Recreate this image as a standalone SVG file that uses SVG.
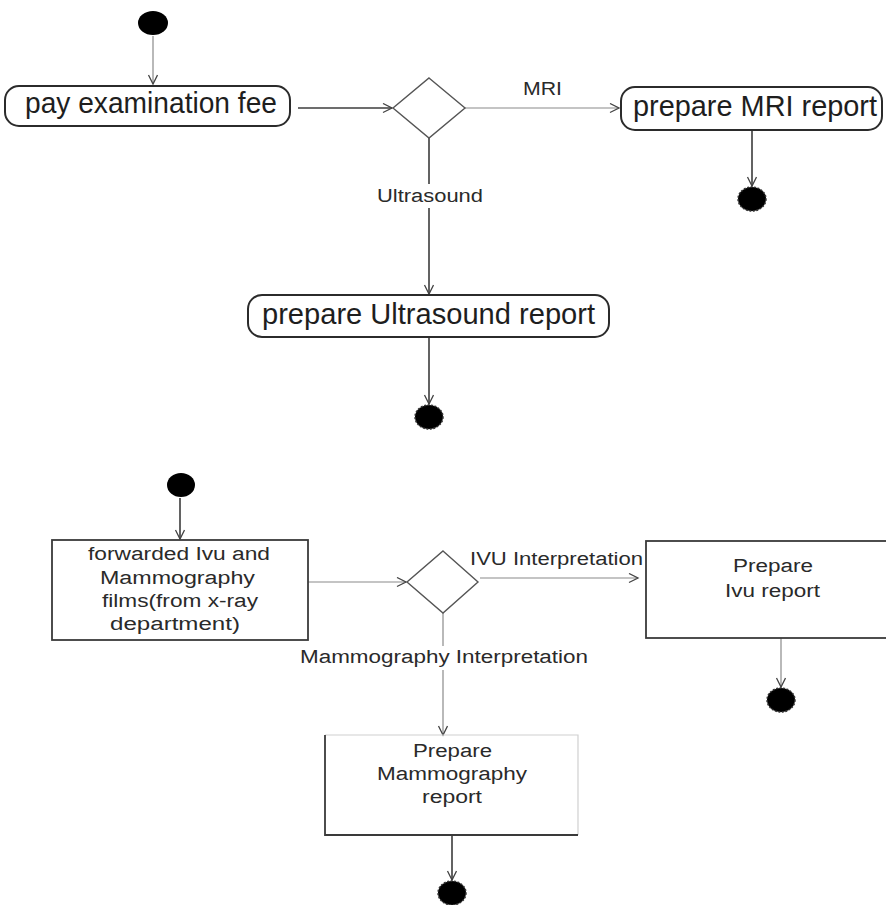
<svg xmlns="http://www.w3.org/2000/svg" width="886" height="905" viewBox="0 0 886 905">
  <style>
    .bg { fill: #ffffff; }
    .start, .end { fill: #000000; }
    .end { stroke: #333333; stroke-width: 1.5; stroke-dasharray: 2 1.5; }
    .action { fill: #ffffff; stroke: #2b2b2b; stroke-width: 2; }
    .box { fill: #ffffff; stroke: #3a3a3a; stroke-width: 1.8; }
    .decision { fill: #ffffff; stroke: #555555; stroke-width: 1.4; }
    .big { font-family: "Liberation Sans", Arial, sans-serif; font-size: 30px; fill: #1e1e1e; }
    .small { font-family: "Liberation Sans", Arial, sans-serif; font-size: 18px; fill: #2a2a2a; }
    .flow { fill: none; stroke: #3c3c3c; stroke-width: 1.6; marker-end: url(#open); }
    .flow-light { fill: none; stroke: #8a8a8a; stroke-width: 1.2; marker-end: url(#open); }
    .label-bg { fill: #ffffff; }
  </style>
  <defs>
    <marker id="open" markerUnits="userSpaceOnUse" markerWidth="12" markerHeight="12" refX="10" refY="5" orient="auto">
      <path d="M1,0.5 L10,5 L1,9.5" fill="none" stroke="#444444" stroke-width="1.3"/>
    </marker>
  </defs>

  <rect class="bg" x="0" y="0" width="886" height="905"/>

  <!-- connectors -->
  <g id="connectors">
    <line class="flow-light" x1="153" y1="36" x2="153" y2="84"/>
    <line class="flow" x1="298" y1="108" x2="392" y2="108"/>
    <line class="flow-light" x1="465" y1="108" x2="619" y2="108"/>
    <line class="flow" x1="429" y1="138" x2="429" y2="294"/>
    <line class="flow" x1="752" y1="130" x2="752" y2="186"/>
    <line class="flow" x1="429" y1="337" x2="429" y2="404"/>

    <line class="flow" x1="180" y1="498" x2="180" y2="539"/>
    <line class="flow-light" x1="308" y1="582" x2="406" y2="582"/>
    <line class="flow-light" x1="480" y1="578" x2="638" y2="578"/>
    <line class="flow-light" x1="443" y1="613" x2="443" y2="735"/>
    <line class="flow-light" x1="781" y1="638" x2="781" y2="687"/>
    <line class="flow" x1="452" y1="835" x2="452" y2="880"/>

    <!-- guard labels -->
    <text class="small" x="523" y="95" textLength="39" lengthAdjust="spacingAndGlyphs">MRI</text>
    <rect class="label-bg" x="375" y="184" width="110" height="24"/>
    <text class="small" x="377" y="202" textLength="106" lengthAdjust="spacingAndGlyphs">Ultrasound</text>
    <text class="small" x="470" y="565" textLength="173" lengthAdjust="spacingAndGlyphs">IVU Interpretation</text>
    <rect class="label-bg" x="298" y="646" width="292" height="24"/>
    <text class="small" x="300" y="663" textLength="288" lengthAdjust="spacingAndGlyphs">Mammography Interpretation</text>
  </g>

  <!-- upper flow -->
  <g id="start1">
    <ellipse class="start" cx="153" cy="23" rx="15" ry="12"/>
  </g>
  <g id="pay-fee">
    <rect class="action" x="5" y="86" width="285" height="40" rx="14" ry="14"/>
    <text class="big" x="25" y="113" textLength="252" lengthAdjust="spacingAndGlyphs">pay examination fee</text>
  </g>
  <g id="decision1">
    <polygon class="decision" points="429,78 465,108 429,138 393,108"/>
  </g>
  <g id="mri-report">
    <rect class="action" x="621" y="87" width="261" height="43" rx="14" ry="14"/>
    <text class="big" x="633" y="116" textLength="244" lengthAdjust="spacingAndGlyphs">prepare MRI report</text>
  </g>
  <g id="end-mri">
    <ellipse class="end" cx="752" cy="199" rx="14" ry="12"/>
  </g>
  <g id="ultrasound-report">
    <rect class="action" x="248" y="295" width="361" height="42" rx="14" ry="14"/>
    <text class="big" x="262" y="324" textLength="333" lengthAdjust="spacingAndGlyphs">prepare Ultrasound report</text>
  </g>
  <g id="end-ultrasound">
    <ellipse class="end" cx="429" cy="417" rx="14" ry="12"/>
  </g>

  <!-- lower flow -->
  <g id="start2">
    <ellipse class="start" cx="181" cy="485" rx="14" ry="12"/>
  </g>
  <g id="forwarded-films">
    <rect class="box" x="52" y="540" width="256" height="100"/>
    <text class="small" x="88" y="560" textLength="182" lengthAdjust="spacingAndGlyphs">forwarded Ivu and</text>
    <text class="small" x="100" y="584" textLength="155" lengthAdjust="spacingAndGlyphs">Mammography</text>
    <text class="small" x="102" y="607" textLength="156" lengthAdjust="spacingAndGlyphs">films(from x-ray</text>
    <text class="small" x="110" y="630" textLength="130" lengthAdjust="spacingAndGlyphs">department)</text>
  </g>
  <g id="decision2">
    <polygon class="decision" points="443,551 478,582 443,613 407,582"/>
  </g>
  <g id="ivu-report">
    <rect class="box" x="646" y="541" width="250" height="97"/>
    <text class="small" x="733" y="572" textLength="80" lengthAdjust="spacingAndGlyphs">Prepare</text>
    <text class="small" x="725" y="597" textLength="95" lengthAdjust="spacingAndGlyphs">Ivu report</text>
  </g>
  <g id="end-ivu">
    <ellipse class="end" cx="781" cy="700" rx="14" ry="12"/>
  </g>
  <g id="mammography-report">
    <path d="M325,735 L578,735 L578,835" fill="none" stroke="#d0d0d0" stroke-width="1.2"/>
    <path d="M325,735 L325,835 L578,835" fill="none" stroke="#3a3a3a" stroke-width="1.8"/>
    <text class="small" x="413" y="757" textLength="79" lengthAdjust="spacingAndGlyphs">Prepare</text>
    <text class="small" x="377" y="780" textLength="150" lengthAdjust="spacingAndGlyphs">Mammography</text>
    <text class="small" x="422" y="803" textLength="60" lengthAdjust="spacingAndGlyphs">report</text>
  </g>
  <g id="end-mammography">
    <ellipse class="end" cx="452" cy="893" rx="14" ry="12"/>
  </g>
</svg>
